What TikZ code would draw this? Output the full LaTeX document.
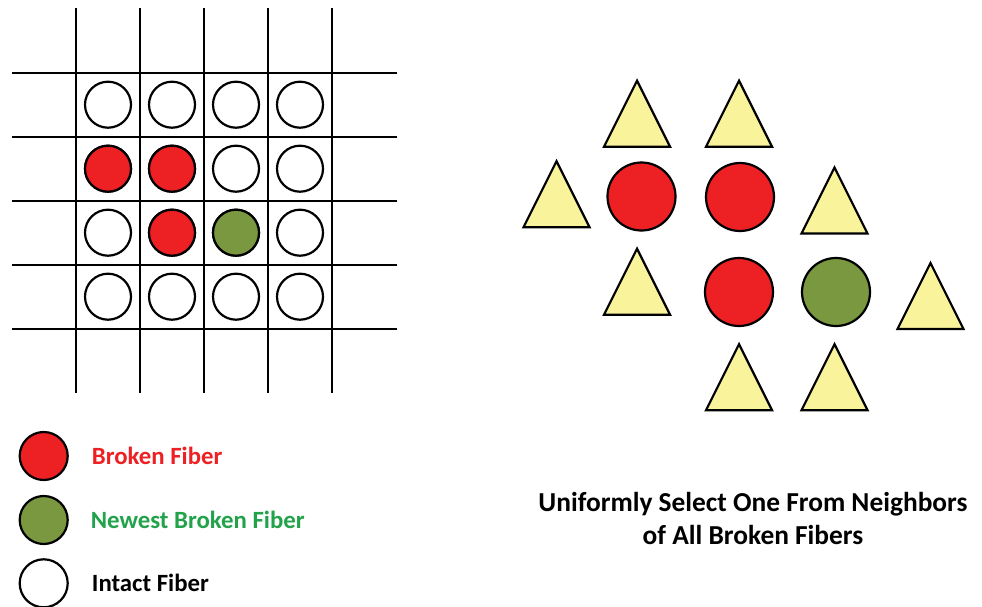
\documentclass[tikz,border=0pt]{standalone}
\usepackage{fontspec}
\setmainfont{Carlito}
\definecolor{fred}{HTML}{ED2024}
\definecolor{fgreen}{HTML}{7A983F}
\definecolor{fyellow}{HTML}{F9F39B}
\definecolor{tgreen}{HTML}{22A24A}
\definecolor{tred}{HTML}{ED2024}
\tikzset{
  gridline/.style={line width=2pt, black},
  fiber/.style={circle, draw=black, line width=2.2pt, minimum size=46pt, inner sep=0pt},
  bigfiber/.style={circle, draw=black, line width=2.2pt, minimum size=68pt, inner sep=0pt},
  broken/.style={fill=fred},
  newest/.style={fill=fgreen},
  intact/.style={fill=white},
  tristyle/.style={draw=black, fill=fyellow, line width=2.2pt, line join=miter},
  legtext/.style={anchor=west, font=\bfseries\fontsize{24.8}{30}\selectfont, inner sep=0pt},
  captext/.style={align=center, font=\bfseries\fontsize{27.4}{33}\selectfont, inner sep=0pt},
}
\newcommand\tri[3]{\draw[tristyle] ({#2-33},{#3+33}) coordinate (#1) -- (#2,{#3-33}) -- ({#2+33},{#3+33}) -- cycle;}
\begin{document}
\begin{tikzpicture}[x=1pt,y=-1pt]
\useasboundingbox (0,0) rectangle (982,607);
% grid
\foreach \x in {76,140,204,268,332} \draw[gridline] (\x,8) -- (\x,393);
\foreach \y in {72.7,136.7,200.7,264.7,328.7} \draw[gridline] (12,\y) -- (397,\y);
% grid fibers
\foreach \r/\y in {1/104.7,2/168.7,3/232.7,4/296.7}
  \foreach \c/\x in {1/108,2/172,3/236,4/300}
    \node[fiber,intact] (g\r\c) at (\x,\y) {};
\node[fiber,broken] at (g21) {};
\node[fiber,broken] at (g22) {};
\node[fiber,broken] at (g32) {};
\node[fiber,newest] at (g33) {};
% right cluster
\node[bigfiber,broken] (b1) at (641.5,196.5) {};
\node[bigfiber,broken] (b2) at (740,197) {};
\node[bigfiber,broken] (b3) at (739,292) {};
\node[bigfiber,newest] (b4) at (836,292) {};
\tri{t1}{637}{113.7}
\tri{t2}{739}{113.7}
\tri{t3}{556.5}{194.2}
\tri{t4}{834.5}{200.5}
\tri{t5}{637}{281.7}
\tri{t6}{930.5}{296}
\tri{t7}{739}{377.2}
\tri{t8}{834.5}{377.2}
% legend
\node[fiber,broken,minimum size=48pt] (l1) at (43.7,456) {};
\node[fiber,newest,minimum size=48pt] (l2) at (43.7,520) {};
\node[fiber,intact,minimum size=48pt] (l3) at (43.7,583.3) {};
\node[legtext,text=tred] (lt1) at (91.7,456) {Broken Fiber};
\node[legtext,text=tgreen] (lt2) at (90.7,520) {Newest Broken Fiber};
\node[legtext,text=black] (lt3) at (91.7,583) {Intact Fiber};
% caption
\node[captext] (cap) at (753,518) {Uniformly Select One From Neighbors\\of All Broken Fibers};
\end{tikzpicture}
\end{document}
